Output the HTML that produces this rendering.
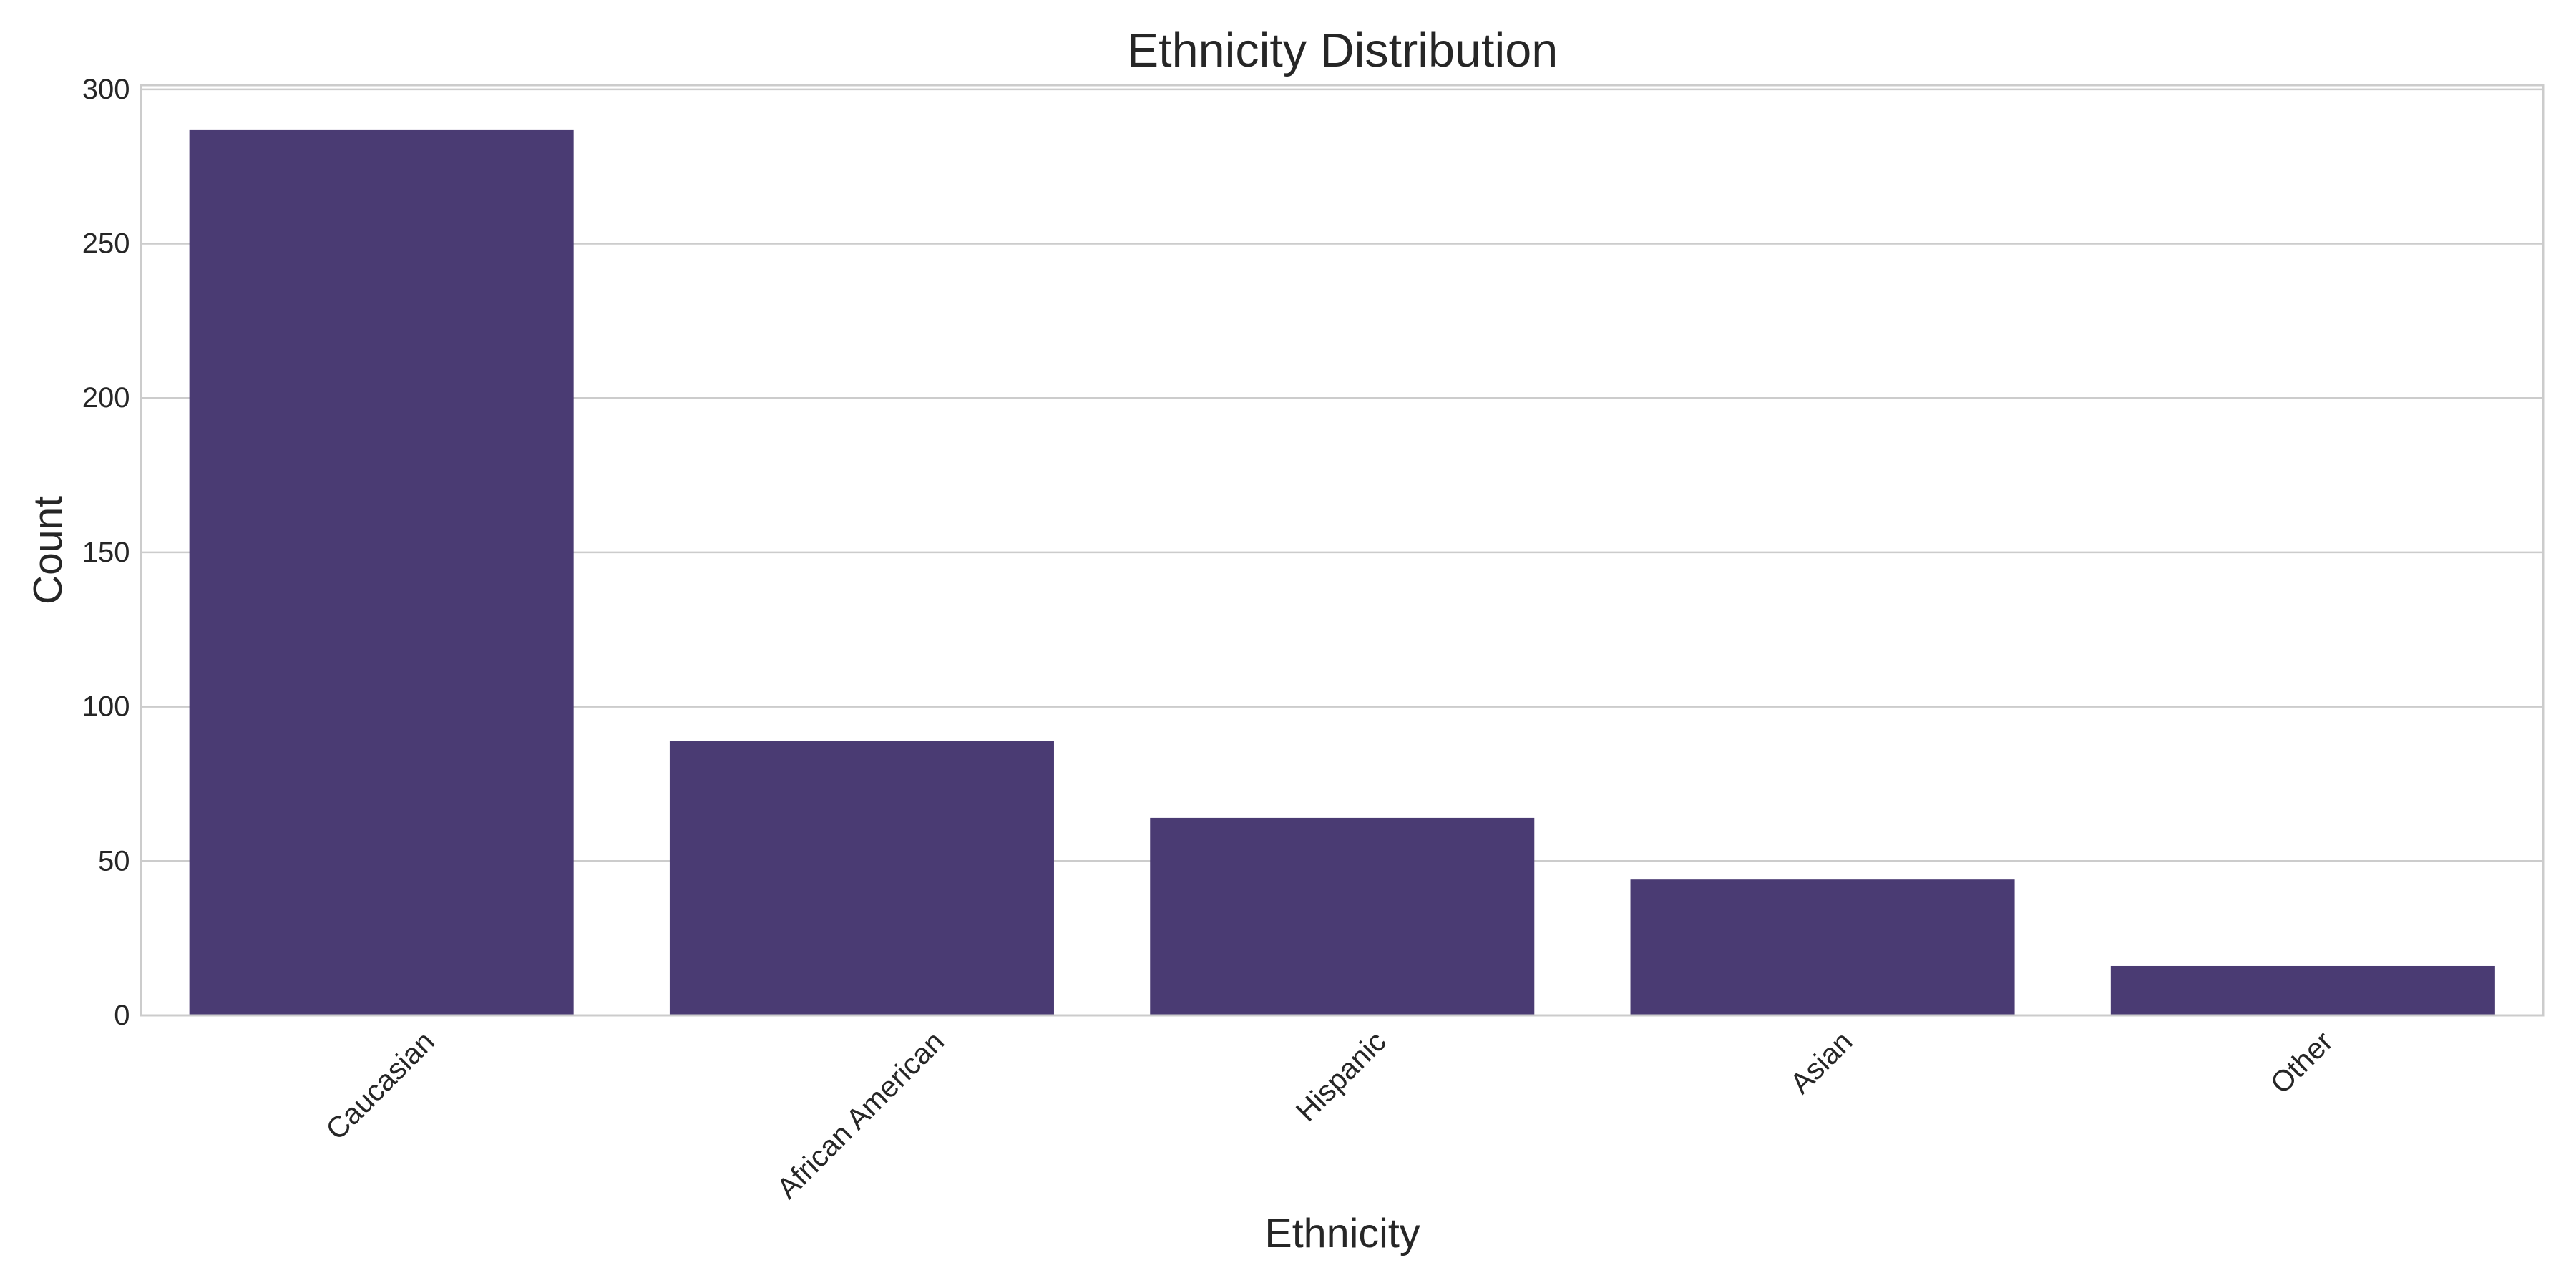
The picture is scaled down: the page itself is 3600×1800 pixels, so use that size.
<!DOCTYPE html>
<html><head><meta charset="utf-8"><style>
html,body{margin:0;padding:0;background:#fff}
svg{display:block;font-family:"Liberation Sans",sans-serif}
</style></head><body>
<svg id="chart" width="3600" height="1800" viewBox="0 0 3600 1800" xmlns="http://www.w3.org/2000/svg">
<rect width="3600" height="1800" fill="#fff"/>
<g id="grid"></g>
<g id="bars"></g>
<rect x="197.5" y="119" width="3356.5" height="1300" fill="none" stroke="#cccccc" stroke-width="3"/>
<g id="yticks"></g>
<g id="xticks"></g>
<text x="1876" y="71" text-anchor="middle" dominant-baseline="central" font-size="66.5" fill="#262626">Ethnicity Distribution</text>
<text x="1876" y="1724" text-anchor="middle" dominant-baseline="central" font-size="57.5" fill="#262626">Ethnicity</text>
<text transform="translate(67,769) rotate(-90)" text-anchor="middle" dominant-baseline="central" font-size="57" fill="#262626">Count</text>
</svg>
<script>
const categories = ["Caucasian","African American","Hispanic","Asian","Other"];
const counts = [287, 89, 64, 44, 16];
const yTicks = [0, 50, 100, 150, 200, 250, 300];

const NS = "http://www.w3.org/2000/svg";
const L = 197.5, R = 3554, T = 119, B = 1419;
const yMax = Math.max(...counts) * 1.05;
const y = v => B - v / yMax * (B - T);
const step = (R - L) / categories.length;
const xc = i => L + step * (i + 0.5);
const bw = step * 0.8;

const grid = document.getElementById('grid');
const yt = document.getElementById('yticks');
yTicks.forEach(t => {
  const ln = document.createElementNS(NS, 'line');
  ln.setAttribute('x1', L); ln.setAttribute('x2', R);
  ln.setAttribute('y1', y(t)); ln.setAttribute('y2', y(t));
  ln.setAttribute('stroke', '#cccccc'); ln.setAttribute('stroke-width', '2.5');
  
  
  grid.appendChild(ln);
  const tx = document.createElementNS(NS, 'text');
  tx.setAttribute('x', L - 16); tx.setAttribute('y', y(t));
  tx.setAttribute('text-anchor', 'end'); tx.setAttribute('dominant-baseline', 'central');
  tx.setAttribute('font-size', '40'); tx.setAttribute('fill', '#262626');
  tx.textContent = t;
  
  
  yt.appendChild(tx);
});

const bars = document.getElementById('bars');
const xt = document.getElementById('xticks');
categories.forEach((c, i) => {
  const r = document.createElementNS(NS, 'rect');
  r.setAttribute('x', xc(i) - bw / 2); r.setAttribute('width', bw);
  r.setAttribute('y', y(counts[i])); r.setAttribute('height', B - y(counts[i]));
  r.setAttribute('fill', '#4a3b73');
  
  
  bars.appendChild(r);
  const tx = document.createElementNS(NS, 'text');
  tx.setAttribute('text-anchor', 'middle'); tx.setAttribute('dominant-baseline', 'central');
  tx.setAttribute('font-size', '41'); tx.setAttribute('fill', '#262626');
  tx.textContent = c;
  
  
  xt.appendChild(tx);
  const len = tx.getComputedTextLength();
  const h = 41;
  const half = (len + h) * Math.SQRT1_2 / 2;
  tx.setAttribute('transform', `translate(${xc(i) - 2},${B + 15 + half}) rotate(-45)`);
});
</script>
</body></html>
